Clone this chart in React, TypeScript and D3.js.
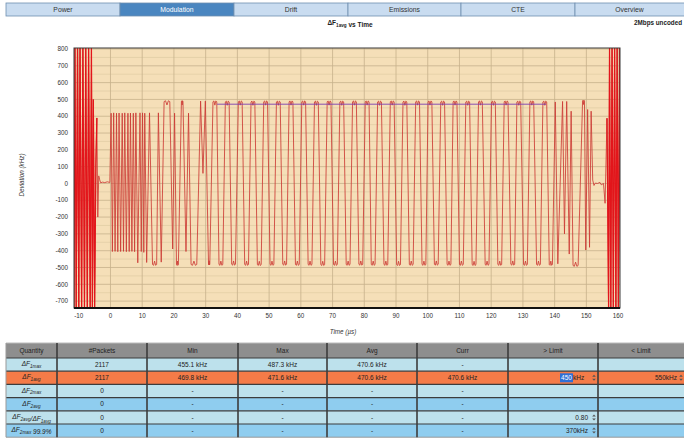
import React from "react";
import * as d3 from "d3";

const W = 684;
const H = 441;

// tab bar
const tabs = ["Power", "Modulation", "Drift", "Emissions", "CTE", "Overview"];
const tabEdges = [6, 120, 234, 348, 461, 575, 690];
const activeTab = "Modulation";

// axes
const xTicks = [-10, 0, 10, 20, 30, 40, 50, 60, 70, 80, 90, 100, 110, 120, 130, 140, 150, 160];
const yTicks = [-700, -600, -500, -400, -300, -200, -100, 0, 100, 200, 300, 400, 500, 600, 700, 800];
const yMinorTicks = [-650, -550, -450, -350, -250, -150, -50, 50, 150, 250, 350, 450, 550, 650, 750];

// ramp-up burst and idle carrier before the packet: [time us, deviation kHz]
const rampUp: [number, number][] = [
  [-11.5, -741], [-11.2, 806], [-10.8, -741], [-10.4, 806], [-10.0, -741], [-9.6, 806],
  [-9.1, -741], [-8.7, 806], [-8.2, -741], [-7.8, 806], [-7.3, -741], [-6.9, 806],
  [-6.4, -741], [-6.0, 806], [-5.7, -741], [-5.4, 500], [-5.0, -741], [-4.6, 120],
  [-4.3, 390], [-4.0, -200], [-3.7, 45], [-3.4, 22], [-3.1, 4], [-2.5, 8], [-1.8, 5],
  [-1.0, 10], [-0.2, 6],
];

// packet extremes: [time us, deviation kHz, plateau width us]
const packetPeaks: [number, number, number][] = [
  [0.2, 418, 0], [0.6, -405, 0], [1.0, 420, 0], [1.45, -404, 0], [1.9, 418, 0], [2.3, -406, 0],
  [2.7, 419, 0], [3.2, -405, 0], [3.7, 418, 0], [4.1, -404, 0], [4.5, 420, 0], [5.0, -406, 0],
  [5.5, 418, 0], [5.9, -405, 0], [6.3, 419, 0], [6.75, -404, 0], [7.2, 418, 0], [7.6, -406, 0],
  [8.0, 420, 0], [8.6, -472, 0], [9.3, 420, 0], [9.7, -405, 0], [10.1, 420, 0], [10.5, -410, 0],
  [10.8, 418, 0], [11.4, -470, 0], [12.3, 420, 0], [13.9, -482, 1.3], [15.1, 420, 0], [16.0, -468, 0],
  [17.8, 487, 1.8], [19.6, -390, 0], [20.2, 418, 0], [21.1, -482, 0.6], [22.6, 487, 0.5], [23.8, -405, 0],
  [24.6, 418, 0], [26.3, -482, 1.8], [28.4, 490, 0], [29.15, 60, 0], [29.9, 490, 0], [31.1, -480, 0.4],
  [32.9, 486, 1.2], [34.8, -482, 1.2], [36.8, 485, 1.2], [38.8, -481, 1.2], [40.9, 486, 1.2], [42.9, -482, 1.2],
  [44.9, 485, 1.2], [46.9, -483, 1.2], [48.9, 486, 1.2], [50.9, -482, 1.2], [52.9, 485, 1.2], [54.9, -481, 1.2],
  [56.9, 486, 1.2], [58.9, -482, 1.2], [60.9, 486, 1.2], [62.9, -482, 1.2], [64.9, 485, 1.2], [66.9, -483, 1.2],
  [68.9, 486, 1.2], [70.9, -482, 1.2], [72.9, 485, 1.2], [74.9, -482, 1.2], [76.9, 486, 1.2], [78.9, -481, 1.2],
  [80.9, 486, 1.2], [82.8, -482, 1.2], [84.8, 485, 1.2], [86.8, -482, 1.2], [88.8, 486, 1.2], [90.8, -483, 1.2],
  [92.8, 485, 1.2], [94.8, -482, 1.2], [96.8, 486, 1.2], [98.8, -482, 1.2], [100.7, 486, 1.2], [102.7, -481, 1.2],
  [104.7, 485, 1.2], [106.7, -482, 1.2], [108.6, 486, 1.2], [110.6, -482, 1.2], [112.6, 485, 1.2], [114.6, -483, 1.2],
  [116.6, 486, 1.2], [118.7, -482, 1.2], [120.7, 485, 1.2], [122.7, -482, 1.2], [124.7, 486, 1.2], [126.8, -481, 1.2],
  [128.7, 485, 1.2], [130.8, -482, 1.2], [132.8, 486, 1.2], [134.9, -482, 1.2], [136.9, 485, 1.2], [138.8, -482, 1.0],
  [140.2, 485, 0], [141.0, -478, 0], [142.5, 488, 0], [143.1, -300, 0], [143.8, 488, 0], [144.6, -420, 0],
  [145.2, 430, 0], [146.6, -488, 1.6], [149.1, 490, 0.6], [149.8, -396, 0], [150.4, 440, 0], [151.0, -380, 0],
  [151.5, 430, 0],
];

// idle carrier and ramp-down burst after the packet
const rampDown: [number, number][] = [
  [152.0, 20], [152.4, -12], [152.8, 2], [153.5, 0], [154.3, 6], [154.7, -8], [155.4, 0],
  [155.9, -118], [156.5, 388], [157.0, -741], [157.3, 806], [157.7, -741], [158.1, 806],
  [158.5, -741], [158.9, 806], [159.3, -741], [159.7, 806], [160.1, -741], [160.5, 806], [160.8, -741],
];

// measured average marker
const avgLine = { start: 33.6, end: 137.3, value: 471.6 };

// results table
const tableHeaders = ["Quantity", "#Packets", "Min", "Max", "Avg", "Curr", "> Limit", "< Limit"];
const tableEdges = [6, 57, 147, 238, 327, 417, 508, 598, 690];
const quantityParts: [string, string][][] = [
  [["ΔF", "1max"]],
  [["ΔF", "1avg"]],
  [["ΔF", "2max"]],
  [["ΔF", "2avg"]],
  [["ΔF", "2avg"], ["/ΔF", "1avg"]],
  [["ΔF", "2max"], [" 99.9%", ""]],
];
const packetCounts = ["2117", "2117", "0", "0", "0", "0"];
const minValues = ["455.1 kHz", "469.8 kHz", "-", "-", "-", "-"];
const maxValues = ["487.3 kHz", "471.6 kHz", "-", "-", "-", "-"];
const avgValues = ["470.6 kHz", "470.6 kHz", "-", "-", "-", "-"];
const currValues = ["-", "470.6 kHz", "-", "-", "-", "-"];
const upperLimits = ["", "450|kHz", "", "", "0.80", "370kHz"];
const lowerLimits = ["", "550kHz", "", "", "", ""];
const rowColors = ["#bde1ec", "#f47b48", "#bde1ec", "#8fcdef", "#bde1ec", "#8fcdef"];

const FONT = "'Liberation Sans', Arial, sans-serif";

const plot = { left: 74, right: 620, top: 48, bottom: 308 };

function peakPoints(peaks: [number, number, number][]): [number, number][] {
  const pts: [number, number][] = [];
  peaks.forEach(([t, v, w]) => {
    if (w > 0) {
      const s = Math.sign(v);
      pts.push([t - w / 2, v], [t - w / 4, v + s * 5], [t, v - s * 20], [t + w / 4, v + s * 5], [t + w / 2, v]);
    } else {
      pts.push([t, v]);
    }
  });
  return pts;
}

function Spinner({ x, y }: { x: number; y: number }) {
  return (
    <g fill="#555">
      <path d={`M${x - 1.8},${y - 1} L${x},${y - 3} L${x + 1.8},${y - 1} Z`} />
      <path d={`M${x - 1.8},${y + 1} L${x},${y + 3} L${x + 1.8},${y + 1} Z`} />
    </g>
  );
}

function Sub({ parts, size }: { parts: [string, string][]; size: number }) {
  return (
    <>
      {parts.map(([main, sub], i) => (
        <React.Fragment key={i}>
          <tspan>{main}</tspan>
          {sub && (
            <tspan fontSize={size * 0.72} dy={size * 0.28}>
              {sub}
            </tspan>
          )}
          {sub && <tspan dy={-size * 0.28}>{""}</tspan>}
        </React.Fragment>
      ))}
    </>
  );
}

export default function App() {
  const x = d3.scaleLinear().domain([-11.5, 160.6]).range([plot.left, plot.right]);
  const y = d3.scaleLinear().domain([-741, 806]).range([plot.bottom, plot.top]);

  const line = d3
    .line<[number, number]>()
    .x((d) => x(d[0]))
    .y((d) => y(d[1]));

  const trace = [...rampUp, ...peakPoints(packetPeaks), ...rampDown];

  const headerTop = 343;
  const headerH = 15;
  const rowH = 13.2;

  const cellText = (col: number, row: number, txt: string) => {
    const cx = (tableEdges[col] + tableEdges[col + 1]) / 2;
    const cy = headerTop + headerH + row * rowH + rowH / 2 + 2.2;
    return (
      <text key={`${col}-${row}`} x={cx} y={cy} textAnchor="middle" fontSize={6.5} fill="#222">
        {txt}
      </text>
    );
  };

  return (
    <svg
      width={W}
      height={H}
      style={{ position: "absolute", left: 0, top: 0, background: "#fff" }}
      fontFamily={FONT}
    >
      <defs>
        <clipPath id="plotClip">
          <rect x={plot.left} y={plot.top} width={plot.right - plot.left} height={plot.bottom - plot.top} />
        </clipPath>
      </defs>

      {/* tab bar */}
      <g>
        {tabs.map((t, i) => {
          const active = t === activeTab;
          return (
            <g key={t}>
              <rect
                x={tabEdges[i]}
                y={3}
                width={tabEdges[i + 1] - tabEdges[i]}
                height={13}
                fill={active ? "#4a86c0" : "#c9dcf0"}
                stroke="#6f8fb0"
                strokeWidth={0.8}
              />
              <text
                x={(tabEdges[i] + Math.min(tabEdges[i + 1], W)) / 2}
                y={12.2}
                textAnchor="middle"
                fontSize={6.8}
                fill={active ? "#fff" : "#333"}
              >
                {t}
              </text>
            </g>
          );
        })}
      </g>

      {/* titles */}
      <text x={350} y={25} textAnchor="middle" fontSize={6.5} fontWeight="bold" fill="#222">
        <Sub parts={[["ΔF", "1avg"]]} size={6.5} />
        <tspan> vs Time</tspan>
      </text>
      <text x={682} y={25} textAnchor="end" fontSize={6.3} fontWeight="bold" fill="#222">
        2Mbps uncoded
      </text>

      {/* plot background and grid */}
      <rect
        x={plot.left}
        y={plot.top}
        width={plot.right - plot.left}
        height={plot.bottom - plot.top}
        fill="#f5dfb8"
      />
      <g stroke="#e0cba3" strokeWidth={0.7}>
        {yMinorTicks.map((v) => (
          <line key={v} x1={plot.left} x2={plot.right} y1={y(v)} y2={y(v)} />
        ))}
      </g>
      <g stroke="#c7b18b" strokeWidth={0.8}>
        {yTicks.map((v) => (
          <line key={v} x1={plot.left} x2={plot.right} y1={y(v)} y2={y(v)} />
        ))}
        {xTicks.map((t) => (
          <line key={t} x1={x(t)} x2={x(t)} y1={plot.top} y2={plot.bottom} />
        ))}
      </g>

      {/* trace */}
      <g clipPath="url(#plotClip)">
        <path d={line(trace) || ""} fill="none" stroke="#cc3b35" strokeWidth={0.85} strokeLinejoin="round" />
        <path d={line(rampUp.slice(0, 19)) || ""} fill="none" stroke="#e3151b" strokeWidth={1.2} />
        <path d={line(rampDown.slice(8)) || ""} fill="none" stroke="#e3151b" strokeWidth={1.2} />
        <line
          x1={x(avgLine.start)}
          x2={x(avgLine.end)}
          y1={y(avgLine.value)}
          y2={y(avgLine.value)}
          stroke="#7a3fb0"
          strokeWidth={0.9}
        />
      </g>

      {/* frame */}
      <rect
        x={plot.left}
        y={plot.top}
        width={plot.right - plot.left}
        height={plot.bottom - plot.top}
        fill="none"
        stroke="#3a3a3a"
        strokeWidth={1}
      />
      <line x1={plot.left} x2={plot.right} y1={plot.bottom} y2={plot.bottom} stroke="#111" strokeWidth={2} />

      {/* tick labels */}
      <g fontSize={6.3} fill="#333">
        {yTicks.map((v) => (
          <text key={v} x={68} y={y(v) + 2.2} textAnchor="end">
            {v}
          </text>
        ))}
        {xTicks.map((t) => (
          <text key={t} x={x(t)} y={318} textAnchor="middle">
            {t}
          </text>
        ))}
      </g>

      {/* axis titles */}
      <text
        transform={`translate(24,${(plot.top + plot.bottom) / 2 - 3}) rotate(-90)`}
        textAnchor="middle"
        fontSize={6.3}
        fontStyle="italic"
        fill="#333"
      >
        Deviation (kHz)
      </text>
      <text x={343} y={334} textAnchor="middle" fontSize={6.3} fontStyle="italic" fill="#333">
        Time (µs)
      </text>

      {/* results table */}
      <g>
        {tableHeaders.map((h, i) => (
          <g key={h}>
            <rect
              x={tableEdges[i]}
              y={headerTop}
              width={tableEdges[i + 1] - tableEdges[i]}
              height={headerH}
              fill="#8e8e8e"
            />
            <text
              x={(tableEdges[i] + Math.min(tableEdges[i + 1], W)) / 2}
              y={headerTop + headerH / 2 + 2.3}
              textAnchor="middle"
              fontSize={6.5}
              fill="#1e1e1e"
            >
              {h}
            </text>
          </g>
        ))}
        {rowColors.map((c, r) => (
          <rect
            key={r}
            x={tableEdges[0]}
            y={headerTop + headerH + r * rowH}
            width={tableEdges[8] - tableEdges[0]}
            height={rowH}
            fill={c}
          />
        ))}

        {/* quantity labels */}
        {quantityParts.map((parts, r) => (
          <text
            key={r}
            x={(tableEdges[0] + tableEdges[1]) / 2}
            y={headerTop + headerH + r * rowH + rowH / 2 + 1.5}
            textAnchor="middle"
            fontSize={6.5}
            fontStyle="italic"
            fill="#222"
          >
            <Sub parts={parts} size={6.5} />
          </text>
        ))}

        {packetCounts.map((v, r) => cellText(1, r, v))}
        {minValues.map((v, r) => cellText(2, r, v))}
        {maxValues.map((v, r) => cellText(3, r, v))}
        {avgValues.map((v, r) => cellText(4, r, v))}
        {currValues.map((v, r) => cellText(5, r, v))}

        {/* limit spinners */}
        {upperLimits.map((v, r) => {
          if (!v) return null;
          const cy = headerTop + headerH + r * rowH + rowH / 2;
          const right = tableEdges[7] - 7;
          if (v.includes("|")) {
            const [sel, unit] = v.split("|");
            return (
              <g key={r}>
                <rect x={right - 31} y={cy - 4.5} width={13} height={9} fill="#2f6fd6" />
                <text x={right - 24.5} y={cy + 2.3} textAnchor="middle" fontSize={6.5} fill="#fff">
                  {sel}
                </text>
                <text x={right - 18} y={cy + 2.3} fontSize={6.5} fill="#222">
                  {unit}
                </text>
                <Spinner x={right + 3} y={cy} />
              </g>
            );
          }
          return (
            <g key={r}>
              <text x={right - 3} y={cy + 2.3} textAnchor="end" fontSize={6.5} fill="#222">
                {v}
              </text>
              <Spinner x={right + 3} y={cy} />
            </g>
          );
        })}
        {lowerLimits.map((v, r) => {
          if (!v) return null;
          const cy = headerTop + headerH + r * rowH + rowH / 2;
          return (
            <g key={r}>
              <text x={677} y={cy + 2.3} textAnchor="end" fontSize={6.5} fill="#222">
                {v}
              </text>
              <Spinner x={681} y={cy} />
            </g>
          );
        })}

        {/* grid lines */}
        <g stroke="#3c3c3c">
          {rowColors.map((_, r) => (
            <line
              key={r}
              x1={tableEdges[0]}
              x2={W}
              y1={headerTop + headerH + r * rowH}
              y2={headerTop + headerH + r * rowH}
              strokeWidth={1.2}
            />
          ))}
          <line x1={tableEdges[0]} x2={W} y1={headerTop} y2={headerTop} strokeWidth={1} stroke="#bbb" />
          <line
            x1={tableEdges[0]}
            x2={W}
            y1={headerTop + headerH + 6 * rowH}
            y2={headerTop + headerH + 6 * rowH}
            strokeWidth={1}
            stroke="#999"
          />
          {tableEdges.slice(1, 8).map((e) => (
            <line
              key={e}
              x1={e}
              x2={e}
              y1={headerTop}
              y2={headerTop + headerH + 6 * rowH}
              strokeWidth={1.6}
            />
          ))}
          <line
            x1={tableEdges[0]}
            x2={tableEdges[0]}
            y1={headerTop}
            y2={headerTop + headerH + 6 * rowH}
            strokeWidth={1}
            stroke="#999"
          />
        </g>
      </g>
    </svg>
  );
}
